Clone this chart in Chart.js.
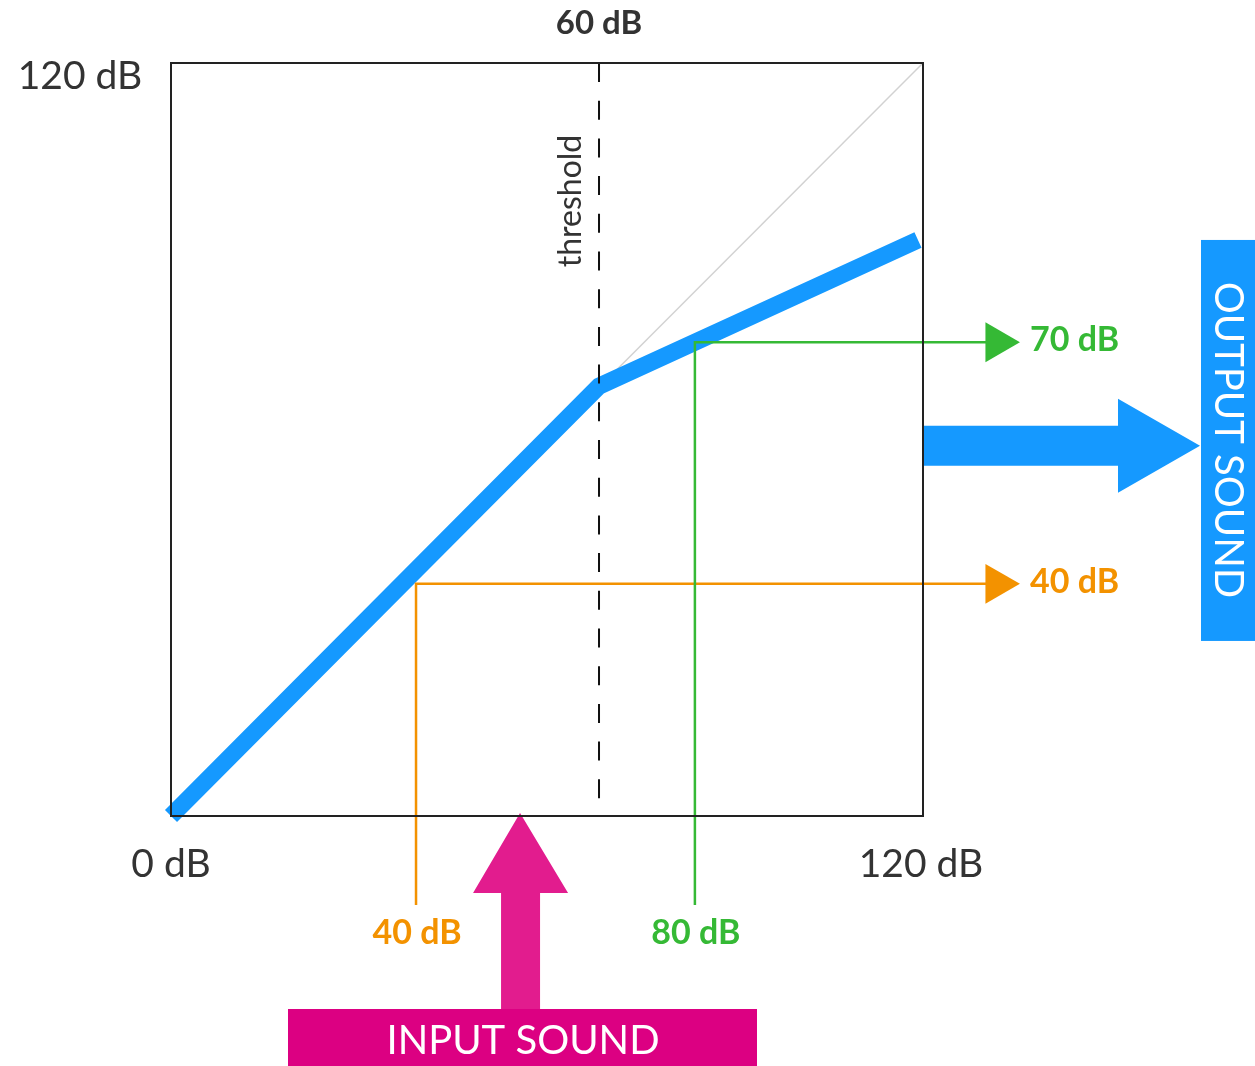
<!DOCTYPE html>
<html>
<head>
<meta charset="utf-8">
<script src="https://cdn.jsdelivr.net/npm/chart.js@4/dist/chart.umd.min.js"></script>
<style>
html,body{margin:0;padding:0;background:#fff;}
#wrap{width:1255px;height:1066px;}
</style>
</head>
<body>
<div id="wrap"><canvas id="c" width="1255" height="1066"></canvas></div>
<script>
// ---- data (dB) ----
const axisRange = [0, 120];
const curveIn  = [0, 68.3, 119.2];
const curveOut = [0, 68.5, 91.8];
const unityIn  = [68.3, 120];
const unityOut = [68.3, 120];
const thresholdIn = 68.3;
const thresholdLabel = "60 dB";
const exampleIn   = [39.1, 83.6];
const exampleOut  = [37.0, 75.5];
const inLabels    = ["40 dB", "80 dB"];
const outLabels   = ["40 dB", "70 dB"];
const exampleColors = ["#F39200", "#35B935"];
const guideBottom = -14.2;
const guideArrowIn = 131.8;
const axisLabels = ["0 dB", "120 dB"];
// drawing extents of scales (space for guides outside the plot box)
const xExtent = [0, 140];
const yExtent = [-15, 120];

const FONT = "Lato, 'Open Sans', sans-serif";
const BLUE = "#1599FF";

function pts(xs, ys){ return xs.map((x,i)=>({x:x,y:ys[i]})); }

const datasets = [
  { // threshold
    data: [{x:thresholdIn,y:axisRange[1]},{x:thresholdIn,y:axisRange[0]}],
    borderColor:"#111", borderWidth:2, borderDash:[19,18.7], pointRadius:0, clip:false
  }
];
[1,0].forEach(i=>{
  datasets.push({
    data: [{x:exampleIn[i],y:guideBottom},{x:exampleIn[i],y:exampleOut[i]},{x:guideArrowIn,y:exampleOut[i]}],
    borderColor: exampleColors[i], backgroundColor: exampleColors[i], borderWidth:2.5,
    pointRadius:[0,0,23], pointStyle:'triangle', pointRotation:90, pointBorderWidth:0,
    pointBackgroundColor: exampleColors[i], pointBorderColor: exampleColors[i],
    borderJoinStyle:'miter', clip:false
  });
});
datasets.push({
  data: pts(curveIn, curveOut), borderColor: BLUE, borderWidth:17, pointRadius:0,
  borderCapStyle:'butt', borderJoinStyle:'miter', clip:false
});
datasets.push({
  data: pts(unityIn, unityOut), borderColor:"#d2d2d2", borderWidth:1.5, pointRadius:0, clip:false
});

const deco = {
  id:'deco',
  beforeDatasetsDraw(chart){
    const ctx = chart.ctx, xs = chart.scales.x, ys = chart.scales.y;
    const L = xs.getPixelForValue(axisRange[0]), R = xs.getPixelForValue(axisRange[1]);
    const T = ys.getPixelForValue(axisRange[1]), B = ys.getPixelForValue(axisRange[0]);
    ctx.save();
    // big output arrow
    const cy = ys.getPixelForValue(59);
    ctx.fillStyle = BLUE;
    ctx.beginPath();
    ctx.moveTo(R, cy-20); ctx.lineTo(R+195, cy-20); ctx.lineTo(R+195, cy-47);
    ctx.lineTo(R+277, cy); ctx.lineTo(R+195, cy+47); ctx.lineTo(R+195, cy+20);
    ctx.lineTo(R, cy+20); ctx.closePath(); ctx.fill();
    // output box
    ctx.fillRect(R+278, ys.getPixelForValue(91.8), 60, 401);
    ctx.save();
    ctx.translate(R+307, ys.getPixelForValue(91.8)+200);
    ctx.rotate(Math.PI/2);
    ctx.fillStyle="#fff"; ctx.font = "40px "+FONT; ctx.textAlign="center"; ctx.textBaseline="middle";
    ctx.fillText("OUTPUT SOUND", 0, 2);
    ctx.restore();
    // input arrow
    const ax = xs.getPixelForValue(55.7);
    ctx.fillStyle = "#E21C8E";
    ctx.beginPath();
    ctx.moveTo(ax, B-3); ctx.lineTo(ax+48, B+77); ctx.lineTo(ax+20, B+77);
    ctx.lineTo(ax+20, B+195); ctx.lineTo(ax-19, B+195); ctx.lineTo(ax-19, B+77);
    ctx.lineTo(ax-47, B+77); ctx.closePath(); ctx.fill();
    // input box
    ctx.fillStyle = "#DC0082";
    ctx.fillRect(288, B+193, 469, 60);
    ctx.fillStyle="#fff"; ctx.font = "40px "+FONT; ctx.textAlign="center"; ctx.textBaseline="middle";
    ctx.fillText("INPUT SOUND", 523, B+225);
    ctx.restore();
  },
  afterDatasetsDraw(chart){
    const ctx = chart.ctx, xs = chart.scales.x, ys = chart.scales.y;
    const L = xs.getPixelForValue(axisRange[0]), R = xs.getPixelForValue(axisRange[1]);
    const T = ys.getPixelForValue(axisRange[1]), B = ys.getPixelForValue(axisRange[0]);
    ctx.save();
    ctx.strokeStyle = "#222"; ctx.lineWidth = 2;
    ctx.strokeRect(L, T, R-L, B-T);
    ctx.textBaseline = "middle";
    ctx.fillStyle = "#333";
    ctx.font = "39px "+FONT; ctx.textAlign="center";
    ctx.fillText("120 dB", 80, T+13);
    ctx.fillText(axisLabels[0], L, B+48);
    ctx.fillText(axisLabels[1], R-2, B+48);
    ctx.font = "bold 33px "+FONT;
    ctx.fillText(thresholdLabel, xs.getPixelForValue(thresholdIn), 23);
    // threshold word
    ctx.save();
    ctx.translate(xs.getPixelForValue(thresholdIn)-28, 201);
    ctx.rotate(-Math.PI/2);
    ctx.font = "32px "+FONT; ctx.fillText("threshold", 0, 0);
    ctx.restore();
    // example labels
    ctx.font = "bold 34px "+FONT;
    exampleIn.forEach((v,i)=>{
      ctx.fillStyle = exampleColors[i];
      ctx.textAlign = "center";
      ctx.fillText(inLabels[i], xs.getPixelForValue(v)+1, B+117);
      ctx.textAlign = "left";
      ctx.fillText(outLabels[i], xs.getPixelForValue(guideArrowIn)+33, ys.getPixelForValue(exampleOut[i])-2);
    });
    ctx.restore();
  }
};

const pxPerX = 752/120, pxPerY = 753/120;
new Chart(document.getElementById('c'), {
  type:'line',
  data:{ datasets },
  options:{
    responsive:false, animation:false, devicePixelRatio:1,
    layout:{ padding:{ left:171, top:63,
      right: 1255 - (171 + xExtent[1]*pxPerX),
      bottom: 1066 - (816 - yExtent[0]*pxPerY) } },
    plugins:{ legend:{display:false}, tooltip:{enabled:false} },
    scales:{
      x:{ type:'linear', min:xExtent[0], max:xExtent[1], display:false },
      y:{ type:'linear', min:yExtent[0], max:yExtent[1], display:false }
    }
  },
  plugins:[deco]
});
</script>
</body>
</html>
